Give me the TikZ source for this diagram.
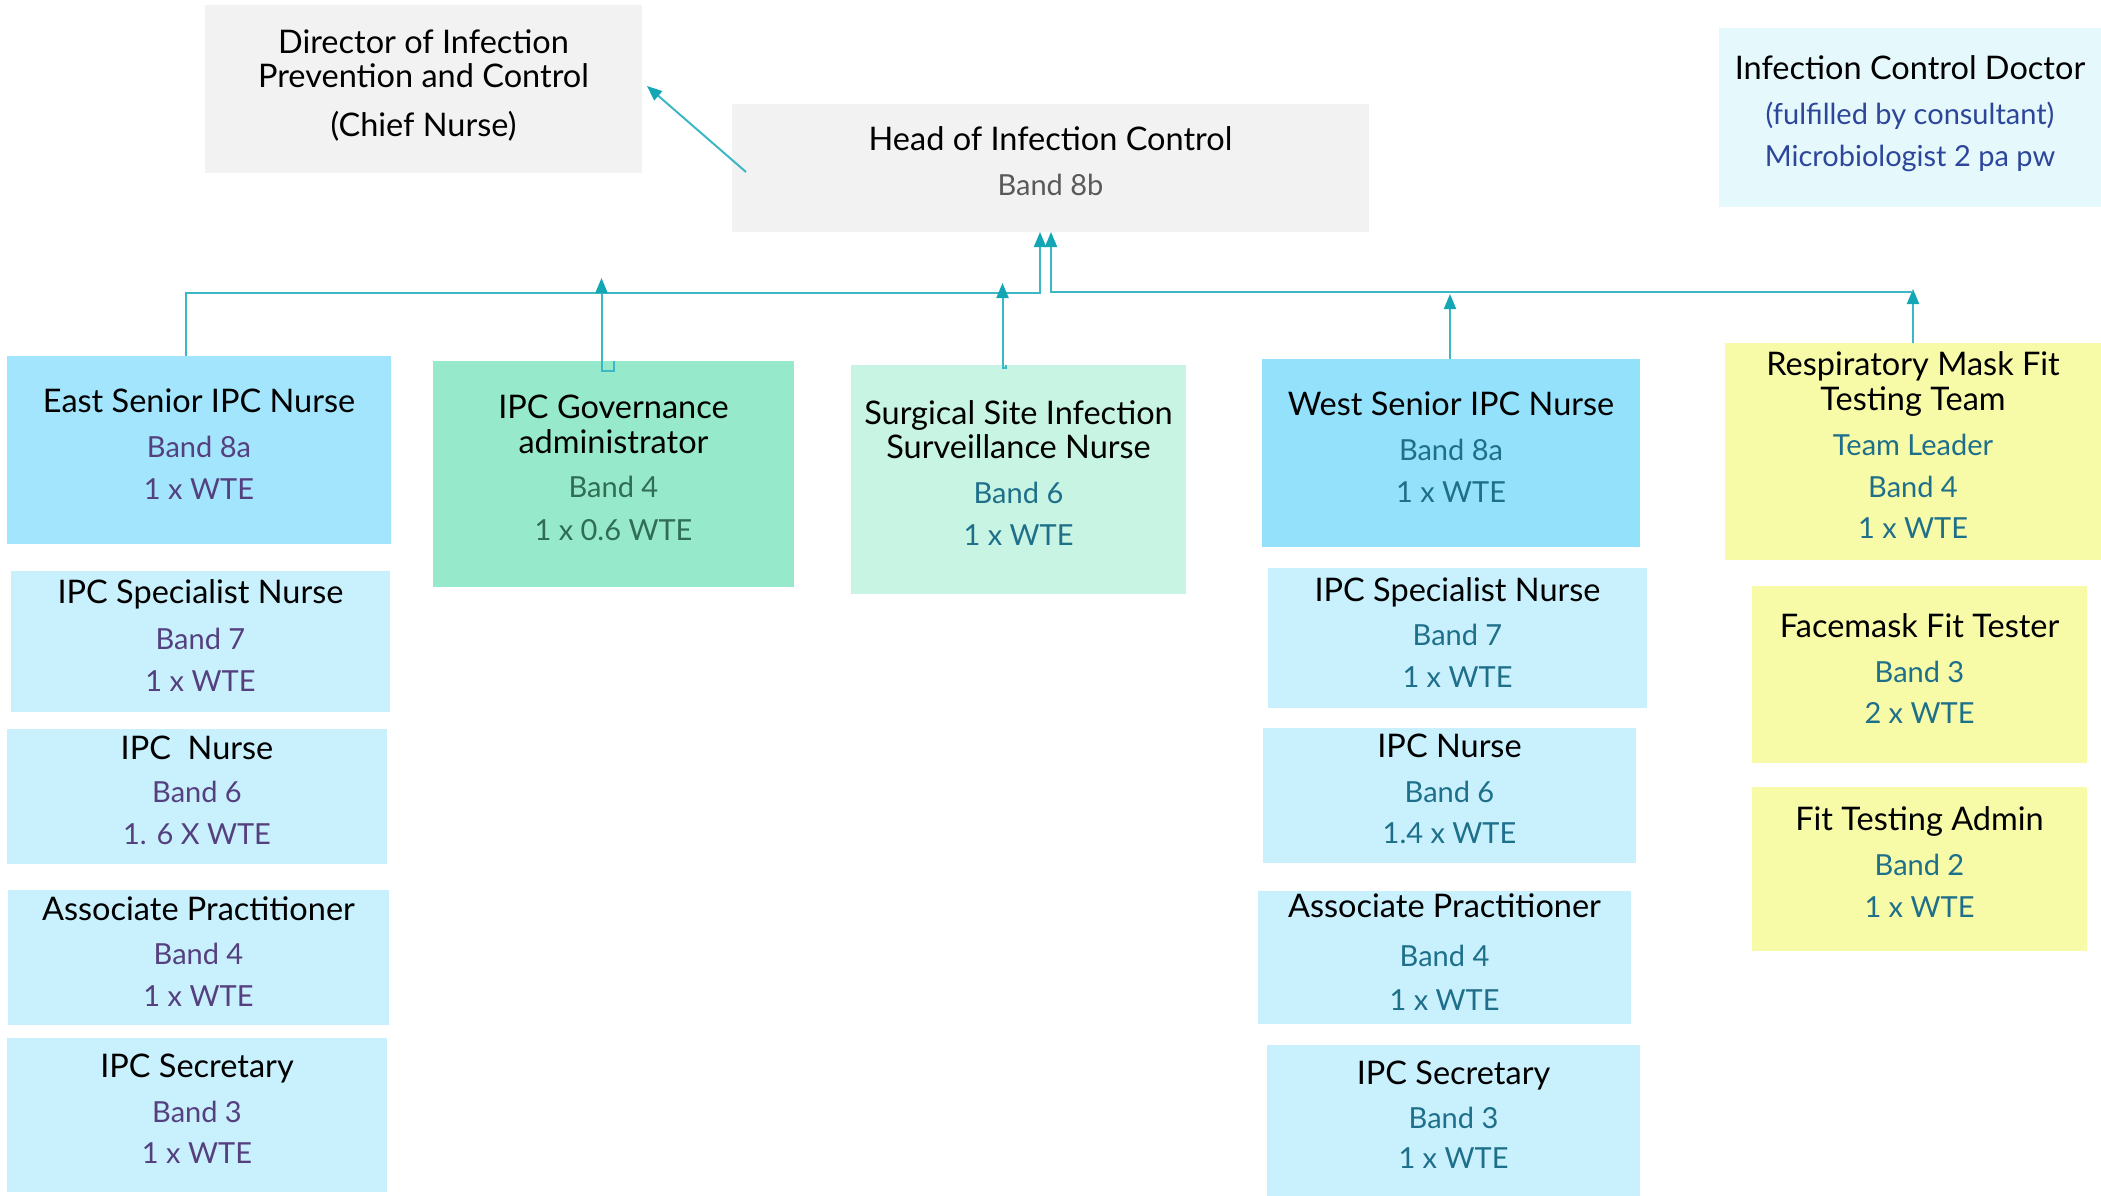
\documentclass[tikz,border=0pt]{standalone}
\usepackage{fontspec}
\setmainfont{Lato}
\usetikzlibrary{arrows.meta,calc}

\definecolor{boxgray}{HTML}{F2F2F2}
\definecolor{doccyan}{HTML}{E5F9FC}
\definecolor{eastblue}{HTML}{A2E5FC}
\definecolor{westblue}{HTML}{94E1FC}
\definecolor{subblue}{HTML}{C8F0FD}
\definecolor{govgreen}{HTML}{96E9CA}
\definecolor{surggreen}{HTML}{C8F4E3}
\definecolor{fityellow}{HTML}{F7FBA8}
\definecolor{linecol}{HTML}{3DB7C4}
\definecolor{tipcol}{HTML}{13A6B5}
\definecolor{txtpurple}{HTML}{55407F}
\definecolor{txtteal}{HTML}{1E6F8A}
\definecolor{txtgreen}{HTML}{2F6D55}
\definecolor{txtblue}{HTML}{2D469A}
\definecolor{txtgray}{HTML}{595959}

% second-level text lines (band, WTE, ...)
\newcommand\sbl[2]{{\fontsize{29}{35}\selectfont\color{#1}#2}}
% fixed height for the first line of every label
\newcommand\fl{\rule{0pt}{26pt}}

\begin{document}
\begin{tikzpicture}[x=1pt,y=-1pt,
  box/.style={rectangle, inner sep=0pt, outer sep=0pt, anchor=north west, draw=none},
  txt/.style={align=center, anchor=north, inner sep=0pt, outer sep=0pt,
              font=\fontsize{32.5}{35}\selectfont},
  conn/.style={draw=linecol, line width=2pt},
  tip/.tip={Triangle[length=15pt, width=12pt, color=tipcol]}]

\useasboundingbox (0,0) rectangle (2101,1196);

% ---------- boxes ----------
\node[box, fill=boxgray, minimum width=437pt, minimum height=168pt] (director) at (205,5) {};
\node[box, fill=boxgray, minimum width=637pt, minimum height=128pt] (head) at (732,104) {};
\node[box, fill=doccyan, minimum width=382pt, minimum height=179pt] (doctor) at (1719,28) {};

\node[box, fill=eastblue, minimum width=384pt, minimum height=188pt] (east) at (7,356) {};
\node[box, fill=subblue, minimum width=379pt, minimum height=141pt] (specL) at (11,571) {};
\node[box, fill=subblue, minimum width=380pt, minimum height=135pt] (nurseL) at (7,729) {};
\node[box, fill=subblue, minimum width=381pt, minimum height=135pt] (assocL) at (8,890) {};
\node[box, fill=subblue, minimum width=380pt, minimum height=154pt] (secL) at (7,1038) {};

\node[box, fill=govgreen, minimum width=361pt, minimum height=226pt] (gov) at (433,361) {};
\node[box, fill=surggreen, minimum width=335pt, minimum height=229pt] (surg) at (851,365) {};

\node[box, fill=westblue, minimum width=378pt, minimum height=188pt] (west) at (1262,359) {};
\node[box, fill=subblue, minimum width=379pt, minimum height=140pt] (specR) at (1268,568) {};
\node[box, fill=subblue, minimum width=373pt, minimum height=135pt] (nurseR) at (1263,728) {};
\node[box, fill=subblue, minimum width=373pt, minimum height=133pt] (assocR) at (1258,891) {};
\node[box, fill=subblue, minimum width=373pt, minimum height=151pt] (secR) at (1267,1045) {};

\node[box, fill=fityellow, minimum width=376pt, minimum height=217pt] (resp) at (1725,343) {};
\node[box, fill=fityellow, minimum width=335pt, minimum height=177pt] (fmask) at (1752,586) {};
\node[box, fill=fityellow, minimum width=335pt, minimum height=164pt] (fitadmin) at (1752,787) {};

% ---------- labels ----------
\node[txt] (directorT) at (director.north |- 0,27)
  {\fl Director of Infection\\[-1pt]Prevention and Control\\[14pt](Chief Nurse)};
\node[txt] (headT) at (head.north |- 0,124)
  {\fl Head of Infection Control\\[10pt]\sbl{txtgray}{Band 8b}};
\node[txt] (doctorT) at (doctor.north |- 0,54)
  {\fl Infection Control Doctor\\[9pt]\sbl{txtblue}{(fulfilled by consultant)}\\[8pt]\sbl{txtblue}{Microbiologist 2 pa pw}};

\node[txt] (eastT) at (east.north |- 0,386)
  {\fl East Senior IPC Nurse\\[10pt]\sbl{txtpurple}{Band 8a}\\[7pt]\sbl{txtpurple}{1 x WTE}};
\node[txt] (specLT) at (specL.north |- 0,577)
  {\fl IPC Specialist Nurse\\[11pt]\sbl{txtpurple}{Band 7}\\[7pt]\sbl{txtpurple}{1 x WTE}};
\node[txt] (nurseLT) at (nurseL.north |- 0,733)
  {\fl IPC\ \ Nurse\\[8pt]\sbl{txtpurple}{Band 6}\\[7pt]\sbl{txtpurple}{1. 6 X WTE}};
\node[txt] (assocLT) at (assocL.north |- 0,894)
  {\fl Associate Practitioner\\[9pt]\sbl{txtpurple}{Band 4}\\[7pt]\sbl{txtpurple}{1 x WTE}};
\node[txt] (secLT) at (secL.north |- 0,1051)
  {\fl IPC Secretary\\[10pt]\sbl{txtpurple}{Band 3}\\[6pt]\sbl{txtpurple}{1 x WTE}};

\node[txt] (govT) at (gov.north |- 0,392)
  {\fl IPC Governance\\[0pt]administrator\\[9pt]\sbl{txtgreen}{Band 4}\\[8pt]\sbl{txtgreen}{1 x 0.6 WTE}};
\node[txt] (surgT) at (surg.north |- 0,398)
  {\fl Surgical Site Infection\\[-1pt]Surveillance Nurse\\[10pt]\sbl{txtteal}{Band 6}\\[7pt]\sbl{txtteal}{1 x WTE}};

\node[txt] (westT) at (west.north |- 0,389)
  {\fl West Senior IPC Nurse\\[10pt]\sbl{txtteal}{Band 8a}\\[7pt]\sbl{txtteal}{1 x WTE}};
\node[txt] (specRT) at (specR.north |- 0,575)
  {\fl IPC Specialist Nurse\\[9pt]\sbl{txtteal}{Band 7}\\[7pt]\sbl{txtteal}{1 x WTE}};
\node[txt] (nurseRT) at (nurseR.north |- 0,731)
  {\fl IPC Nurse\\[10pt]\sbl{txtteal}{Band 6}\\[6pt]\sbl{txtteal}{1.4 x WTE}};
\node[txt] (assocRT) at (assocR.north |- 0,891)
  {\fl Associate Practitioner\\[14pt]\sbl{txtteal}{Band 4}\\[9pt]\sbl{txtteal}{1 x WTE}};
\node[txt] (secRT) at (secR.north |- 0,1058)
  {\fl IPC Secretary\\[9pt]\sbl{txtteal}{Band 3}\\[5pt]\sbl{txtteal}{1 x WTE}};

\node[txt] (respT) at (resp.north |- 0,349)
  {\fl Respiratory Mask Fit\\[0pt]Testing Team\\[10pt]\sbl{txtteal}{Team Leader}\\[7pt]\sbl{txtteal}{Band 4}\\[6pt]\sbl{txtteal}{1 x WTE}};
\node[txt] (fmaskT) at (fmask.north |- 0,611)
  {\fl Facemask Fit Tester\\[10pt]\sbl{txtteal}{Band 3}\\[6pt]\sbl{txtteal}{2 x WTE}};
\node[txt] (fitadminT) at (fitadmin.north |- 0,804)
  {\fl Fit Testing Admin\\[10pt]\sbl{txtteal}{Band 2}\\[7pt]\sbl{txtteal}{1 x WTE}};

% ---------- connectors ----------
\coordinate (busL) at (0,293);
\coordinate (busR) at (0,292);

% head reports to director
\draw[conn,-{tip}] ($(head.south west)+(14,-60)$) -- ($(director.east)+(5,-3)$);

% left branch: east senior nurse up to head
\draw[conn,-{tip}] ($(east.north)+(-13,0)$) |- ($(head.south |- busL)+(-10.5,0)$)
  -- ($(head.south)+(-10.5,0)$);

% governance administrator
\draw[conn,-{tip}] ($(gov.north)+(0,0)$) -- ++(0,10) -- ++(-12,0)
  -- ($(gov.north)+(-12,-83)$);

% surgical site surveillance nurse
\draw[conn,-{tip}] ($(surg.north)+(-13,0)$) -- ++(0,3) -- ++(-3,0)
  -- ($(surg.north)+(-16,-82)$);

% west senior nurse
\draw[conn,-{tip}] ($(west.north)+(-1,0)$) -- ($(west.north)+(-1,-65)$);

% fit testing team up to the bus, and the bus up to head
\draw[conn,-{tip}] (resp.north) -- ($(resp.north)+(0,-54)$);
\draw[conn,-{tip}] (resp.north |- busR) -| ($(head.south)+(0.5,0)$);

\end{tikzpicture}
\end{document}
